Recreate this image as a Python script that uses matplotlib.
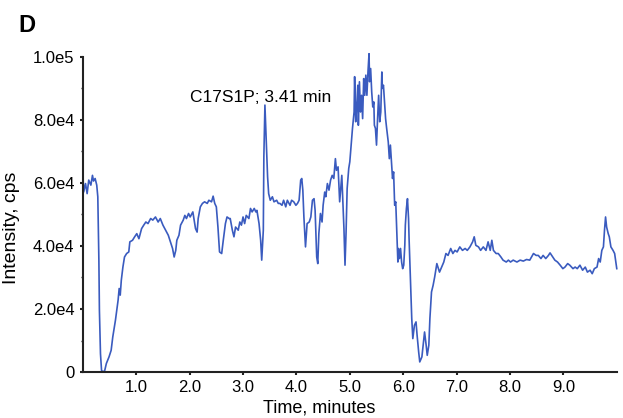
import matplotlib
matplotlib.use("Agg")
import matplotlib.pyplot as plt
from matplotlib.ticker import MultipleLocator

plt.rcParams['font.family'] = ['Liberation Sans', 'DejaVu Sans']

# retention time (minutes) and intensity (x1e4 cps)
time_min = [
    0.00, 0.015, 0.05, 0.08, 0.11, 0.15, 0.18, 0.20, 0.23, 0.26,
    0.28, 0.30, 0.31, 0.33, 0.35, 0.38, 0.41, 0.44, 0.49, 0.53,
    0.56, 0.61, 0.66, 0.68, 0.70, 0.72, 0.75, 0.78, 0.82, 0.86,
    0.88, 0.93, 0.97, 1.01, 1.05, 1.10, 1.14, 1.18, 1.22, 1.27,
    1.31, 1.36, 1.41, 1.45, 1.50, 1.55, 1.60, 1.64, 1.68, 1.71,
    1.74, 1.76, 1.80, 1.83, 1.88, 1.91, 1.94, 1.98, 2.01, 2.06,
    2.11, 2.14, 2.16, 2.20, 2.24, 2.28, 2.33, 2.36, 2.41, 2.44,
    2.47, 2.50, 2.53, 2.56, 2.60, 2.63, 2.67, 2.70, 2.74,
    2.76, 2.80, 2.83, 2.86, 2.91, 2.94, 2.97, 3.00, 3.03, 3.06,
    3.11, 3.14, 3.17, 3.21, 3.24, 3.26, 3.30, 3.33, 3.35, 3.38,
    3.39, 3.41, 3.43, 3.46, 3.48, 3.51, 3.55, 3.58, 3.63, 3.66,
    3.69, 3.73, 3.76, 3.80, 3.83, 3.88, 3.91, 3.95, 3.99, 4.02,
    4.05, 4.08, 4.10, 4.12, 4.14, 4.17, 4.20, 4.24, 4.27, 4.30,
    4.33, 4.35, 4.38, 4.40, 4.42, 4.45, 4.48, 4.50, 4.53, 4.55,
    4.58, 4.61, 4.64, 4.67, 4.70, 4.73, 4.75, 4.78,
    4.81, 4.85, 4.86, 4.89, 4.91, 4.93, 4.95, 4.98, 5.00, 5.03,
    5.05, 5.08, 5.09, 5.11, 5.13, 5.15, 5.16, 5.18, 5.20, 5.22,
    5.24, 5.26, 5.28, 5.30, 5.32, 5.34, 5.36, 5.37, 5.39, 5.41,
    5.43, 5.45, 5.46, 5.48, 5.50, 5.52, 5.54, 5.56, 5.58, 5.60,
    5.61, 5.63, 5.65, 5.67, 5.69, 5.72, 5.74, 5.76, 5.78, 5.80,
    5.82, 5.84, 5.86, 5.88, 5.90, 5.91, 5.93, 5.95, 5.97, 5.99,
    6.01, 6.03, 6.04, 6.06, 6.08, 6.10, 6.11, 6.14, 6.16, 6.18,
    6.21, 6.24, 6.26, 6.29, 6.31, 6.35, 6.38, 6.40, 6.43, 6.45,
    6.48, 6.50, 6.53, 6.56,
    6.59, 6.63, 6.68, 6.72, 6.76, 6.80, 6.84, 6.89, 6.93, 6.97,
    7.01, 7.06, 7.11, 7.16, 7.20, 7.25, 7.30, 7.33, 7.36, 7.41,
    7.45, 7.50, 7.55, 7.59, 7.63, 7.66, 7.69, 7.74, 7.78, 7.83,
    7.87, 7.93, 7.97, 8.01, 8.06, 8.13, 8.19, 8.25, 8.31, 8.37,
    8.44, 8.49, 8.53, 8.58, 8.62, 8.67, 8.72, 8.75, 8.80, 8.84,
    8.89, 8.94, 8.99, 9.03, 9.08, 9.12, 9.18, 9.22, 9.26, 9.31,
    9.36, 9.41, 9.45, 9.50, 9.54, 9.58, 9.63, 9.66, 9.69, 9.72,
    9.75, 9.77, 9.79, 9.81, 9.84, 9.86, 9.89, 9.93, 9.96, 10.0,
]
intensity_e4 = [
    6.35, 5.71, 5.98, 5.66, 6.09, 5.93, 6.24, 6.06, 6.14, 5.93,
    5.56, 3.55, 1.96, 0.58, 0.05, 0.00, 0.05, 0.27, 0.48, 0.69,
    1.11, 1.64, 2.28, 2.65, 2.44, 2.91, 3.33, 3.65, 3.76, 3.81,
    4.13, 4.18, 4.29, 4.39, 4.23, 4.55, 4.66, 4.76, 4.71, 4.87,
    4.82, 4.92, 4.76, 4.87, 4.66, 4.50, 4.34, 4.13, 3.92, 3.65,
    3.86, 4.18, 4.34, 4.66, 4.82, 4.97, 4.87, 5.03, 4.92, 5.08,
    4.55, 4.44, 4.87, 5.24, 5.35, 5.40, 5.35, 5.45, 5.40, 5.58,
    5.35, 5.24, 4.60, 3.81, 3.76, 4.18, 4.71, 4.92, 4.87,
    4.87, 4.50, 4.29, 4.60, 4.50, 4.76, 4.66, 4.92, 4.71, 4.97,
    4.87, 5.19, 5.08, 5.19, 5.08, 5.13, 4.71, 4.18, 3.55, 4.50,
    6.83, 8.47, 7.57, 6.19, 5.66, 5.45, 5.56, 5.40, 5.45, 5.35,
    5.35, 5.29, 5.45, 5.24, 5.45, 5.29, 5.45, 5.40, 5.29, 5.35,
    5.45, 6.09, 6.14, 5.77, 4.92, 3.97, 4.71, 4.76, 4.92, 5.45,
    5.50, 5.13, 3.65, 3.44, 4.39, 5.03, 4.76, 5.29, 5.71, 5.56,
    5.98, 5.77, 6.09, 6.24, 6.14, 6.77, 6.40, 6.51,
    5.40, 6.24, 5.82, 4.55, 3.39, 4.44, 5.82, 6.46, 6.67, 7.30,
    7.73, 8.25, 9.37, 7.94, 8.47, 9.10, 7.83, 9.21, 8.25, 8.78,
    8.04, 9.31, 8.78, 9.42, 8.78, 9.52, 10.1, 9.21, 9.63, 8.89,
    8.41, 8.57, 7.83, 7.73, 7.20, 8.04, 8.78, 7.94, 8.25, 9.52,
    9.00, 9.10, 8.57, 8.04, 7.73, 7.30, 6.77, 7.20, 6.67, 6.14,
    6.35, 5.29, 5.40, 4.44, 3.49, 3.92, 3.60, 3.92, 3.49, 3.28,
    3.39, 4.02, 4.66, 5.19, 5.50, 4.87, 4.23, 2.75, 1.70, 1.06,
    1.48, 1.59, 1.17, 0.63, 0.32, 0.48, 0.95, 1.27, 0.85, 0.53,
    0.85, 1.70, 2.54, 2.75,
    3.02, 3.44, 3.17, 3.33, 3.49, 3.76, 3.70, 3.92, 3.76, 3.86,
    3.81, 3.97, 3.86, 3.92, 3.86, 3.97, 4.13, 4.29, 4.02, 3.97,
    3.86, 3.97, 3.86, 4.13, 3.86, 4.18, 3.86, 3.76, 3.76, 3.65,
    3.55, 3.49, 3.55, 3.49, 3.55, 3.49, 3.55, 3.52, 3.57, 3.55,
    3.76, 3.70, 3.70, 3.60, 3.70, 3.60, 3.70, 3.78, 3.65, 3.55,
    3.49, 3.39, 3.28, 3.33, 3.44, 3.39, 3.28, 3.33, 3.28, 3.39,
    3.23, 3.33, 3.17, 3.23, 3.12, 3.28, 3.33, 3.60, 3.49, 3.86,
    3.97, 4.50, 4.92, 4.60, 4.39, 4.29, 3.97, 3.86, 3.76, 3.28,
]
intensity = [v * 1e4 for v in intensity_e4]

x_ticks = [1.0, 2.0, 3.0, 4.0, 5.0, 6.0, 7.0, 8.0, 9.0]
y_ticks = [0, 2e4, 4e4, 6e4, 8e4, 1e5]
y_ticklabels = ['0', '2.0e4', '4.0e4', '6.0e4', '8.0e4', '1.0e5']

peak_label = 'C17S1P; 3.41 min'

fig = plt.figure(figsize=(6.23, 4.18), dpi=100)
ax = fig.add_axes([0.133, 0.110, 0.857, 0.754])

ax.plot(time_min, intensity, color='#3a5bbf', lw=1.2, clip_on=False)

ax.set_xlim(0, 10.0)
ax.set_ylim(0, 1e5)
ax.set_xticks(x_ticks)
ax.set_xticklabels(['%.1f' % t for t in x_ticks])
ax.set_yticks(y_ticks)
ax.set_yticklabels(y_ticklabels)
ax.yaxis.set_minor_locator(MultipleLocator(1e4))

for s in ['top', 'right']:
    ax.spines[s].set_visible(False)
for s in ['left', 'bottom']:
    ax.spines[s].set_linewidth(1.5)
    ax.spines[s].set_color('#222222')

ax.tick_params(axis='both', which='major', length=2, width=1.5, labelsize=12,
               pad=4, color='#222222')
ax.tick_params(axis='y', which='minor', length=1.5, width=1.0, color='#222222')

ax.set_xlabel('Time, minutes', fontsize=13)
ax.set_ylabel('Intensity, cps', fontsize=14)
ax.xaxis.set_label_coords(0.443, -0.088)
ax.yaxis.set_label_coords(-0.117, 0.458)

ax.text(2.0, 8.56e4, peak_label, fontsize=12.5, ha='left', va='baseline')

fig.text(0.029, 0.923, 'D', fontsize=17, fontweight='bold', ha='left', va='baseline')

fig.savefig('out.png', dpi=100)
